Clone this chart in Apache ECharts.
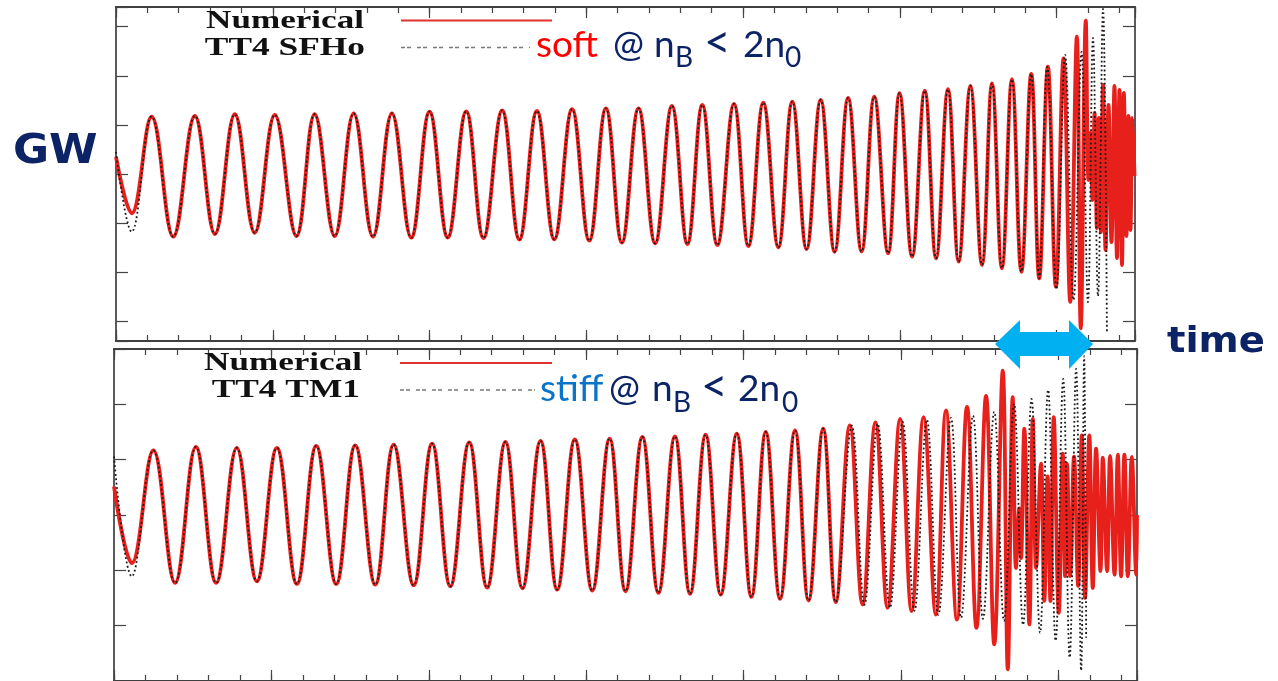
<!DOCTYPE html>
<html>
<head>
<meta charset="utf-8">
<title>GW waveforms: TT4 SFHo / TT4 TM1</title>
<script src="https://cdn.jsdelivr.net/npm/echarts@6/dist/echarts.min.js"></script>
<style>
  html, body { margin: 0; padding: 0; background: #fff; }
  #chart { width: 1278px; height: 681px; }
</style>
</head>
<body>
<div id="chart"></div>
<script>
(function () {
  "use strict";

  // time axis (arbitrary units, one major tick = 1), strain axis (one tick = 1)
  const X_MAX = 6.5;
  const SFHO_Y = [-3.4, 3.4];
  const TM1_Y = [-3, 3];

  // --- upper panel: soft EOS (SFHo) ---
  // extrema: [time, strain]
  const sfhoNumericalHead = [[0, 0.346], [0.100, -0.800]];
  const sfhoModelHead = [[0, 0.448], [0.100, -1.175]];
  // inspiral where both curves lie on top of each other
  const sfhoShared = [
    [0.227, 1.167], [0.365, -1.277], [0.503, 1.181], [0.631, -1.222], [0.758, 1.216],
    [0.885, -1.196], [1.013, 1.202], [1.151, -1.263], [1.267, 1.216], [1.395, -1.263],
    [1.516, 1.236], [1.639, -1.277], [1.760, 1.236], [1.883, -1.297], [2.000, 1.269],
    [2.116, -1.293], [2.234, 1.277], [2.344, -1.303], [2.463, 1.293], [2.573, -1.334],
    [2.685, 1.283], [2.796, -1.330], [2.909, 1.318], [3.019, -1.358], [3.125, 1.338],
    [3.227, -1.399], [3.333, 1.338], [3.439, -1.411], [3.546, 1.385], [3.645, -1.426],
    [3.740, 1.405], [3.836, -1.446], [3.942, 1.426], [4.034, -1.466], [4.129, 1.452],
    [4.225, -1.493], [4.314, 1.473], [4.405, -1.528], [4.495, 1.507], [4.584, -1.583],
    [4.670, 1.548], [4.756, -1.578], [4.837, 1.574], [4.925, -1.615], [4.998, 1.644],
    [5.078, -1.684], [5.159, 1.697], [5.231, -1.717], [5.307, 1.725], [5.375, -1.786],
    [5.450, 1.792], [5.524, -1.853], [5.588, 1.847], [5.651, -1.921], [5.715, 1.929],
    [5.775, -1.990], [5.838, 2.037], [5.889, -2.124]
  ];
  const sfhoNumericalTail = [
    [5.944, 2.185], [5.995, -2.295], [6.044, 2.356], [6.087, -2.601], [6.129, 2.796],
    [6.154, -3.143], [6.186, 3.122], [6.203, -0.122], [6.216, 0.835], [6.229, -0.530],
    [6.242, 1.242], [6.257, -1.100], [6.270, 1.141], [6.283, -1.181], [6.296, 1.813],
    [6.312, -1.548], [6.331, 1.405], [6.350, -1.385], [6.369, 1.792], [6.385, -1.711],
    [6.401, 1.711], [6.417, -1.853], [6.429, 1.650], [6.445, -1.263], [6.458, 1.181],
    [6.471, -1.141], [6.484, 1.141], [6.497, -0.040]
  ];
  const sfhoModelTail = [
    [5.940, 2.179], [5.999, -2.342], [6.054, 2.424], [6.108, -2.566], [6.159, 2.485],
    [6.200, -2.607], [6.232, 2.770], [6.264, -2.485], [6.296, 3.361], [6.321, -3.238]
  ];

  // --- lower panel: stiff EOS (TM1) ---
  const tm1NumericalHead = [[0, 0.516], [0.113, -0.869]];
  const tm1ModelHead = [[0, 1.056], [0.113, -1.108]];
  const tm1Shared = [
    [0.250, 1.169], [0.388, -1.228], [0.520, 1.230], [0.649, -1.228], [0.780, 1.212],
    [0.908, -1.198], [1.035, 1.212], [1.162, -1.246], [1.285, 1.248], [1.412, -1.246],
    [1.533, 1.259], [1.660, -1.259], [1.777, 1.272], [1.904, -1.270], [2.021, 1.290],
    [2.137, -1.288], [2.257, 1.311], [2.371, -1.313], [2.487, 1.320], [2.595, -1.324],
    [2.710, 1.340], [2.816, -1.349], [2.928, 1.367], [3.039, -1.367], [3.149, 1.380],
    [3.250, -1.378], [3.357, 1.410], [3.459, -1.408], [3.564, 1.421], [3.660, -1.426],
    [3.759, 1.451], [3.855, -1.439], [3.957, 1.469], [4.050, -1.480], [4.141, 1.500],
    [4.232, -1.516], [4.327, 1.529], [4.413, -1.547], [4.506, 1.559], [4.586, -1.576]
  ];
  const tm1NumericalTail = [
    [4.675, 1.619], [4.756, -1.619], [4.838, 1.673], [4.915, -1.678], [4.995, 1.739],
    [5.068, -1.737], [5.144, 1.770], [5.222, -1.799], [5.286, 1.889], [5.356, -1.889],
    [5.420, 1.955], [5.480, -2.038], [5.541, 2.153], [5.593, -2.338], [5.647, 2.608],
    [5.679, -2.788], [5.710, 2.130], [5.731, -0.959], [5.752, 0.121], [5.763, -0.779],
    [5.784, 1.559], [5.816, -1.978], [5.838, 1.739], [5.859, -0.959], [5.890, 0.930],
    [5.911, -1.552], [5.932, 0.696], [5.950, -1.558], [5.971, 1.770], [6.003, -1.768],
    [6.028, 1.110], [6.043, -1.103], [6.056, 0.930], [6.075, -1.103], [6.100, 1.056],
    [6.126, -1.282], [6.149, 1.439], [6.170, -1.498], [6.197, 1.439], [6.219, -1.318],
    [6.240, 1.200], [6.268, -1.013], [6.283, 1.038], [6.310, -1.018], [6.329, 1.068],
    [6.357, -1.079], [6.378, 1.092], [6.399, -1.108], [6.420, 1.092], [6.442, -1.108],
    [6.467, 1.050], [6.495, -1.079], [6.500, 0]
  ];
  const tm1ModelTail = [
    [4.688, 1.613], [4.768, -1.624], [4.852, 1.649], [4.930, -1.678], [5.011, 1.685],
    [5.086, -1.732], [5.165, 1.721], [5.238, -1.804], [5.318, 1.757], [5.382, -1.858],
    [5.458, 1.793], [5.521, -1.876], [5.593, 1.865], [5.655, -1.912], [5.719, 2.009],
    [5.776, -1.984], [5.830, 2.099], [5.884, -2.128], [5.935, 2.261], [5.983, -2.272],
    [6.031, 2.459], [6.072, -2.577], [6.113, 2.639], [6.145, -2.811], [6.164, 2.872],
    [6.177, -2.218]
  ];

  const RED = "#e8201c";
  const DOT = "#1a1a1a";
  const FRAME = "#333";
  const NAVY = "#0c2366";
  const SERIF = '"Liberation Serif", "Times New Roman", serif';
  const SANS = 'Lato, "Open Sans", sans-serif';
  const HEAVY = '"DejaVu Sans", Verdana, sans-serif';

  // one side of a panel frame, ticks pointing inward
  function xFrame(gridIndex, position, interval, tickLen) {
    return {
      type: "value", gridIndex, position, min: 0, max: X_MAX, interval,
      axisLine: { show: true, onZero: false, lineStyle: { color: FRAME, width: 1.6 } },
      axisTick: { show: true, inside: true, length: tickLen, lineStyle: { color: "#444", width: 1.2 } },
      axisLabel: { show: false },
      splitLine: { show: false },
    };
  }
  function yFrame(gridIndex, position, range) {
    return {
      type: "value", gridIndex, position, min: range[0], max: range[1],
      axisLine: { show: true, onZero: false, lineStyle: { color: FRAME, width: 1.6 } },
      axisTick: { show: true, inside: true, length: 12, lineStyle: { color: "#444", width: 1.2 } },
      axisLabel: { show: false },
      splitLine: { show: false },
    };
  }

  function wave(name, xi, yi, data, dotted) {
    return {
      type: "line", name, xAxisIndex: xi, yAxisIndex: yi, data,
      symbol: "none", smooth: 0.4, clip: true, z: dotted ? 4 : 2,
      lineStyle: dotted
        ? { color: DOT, width: 1.8, type: [1.8, 2.6] }
        : { color: RED, width: 3.8 },
      emphasis: { disabled: true },
    };
  }

  function txt(x, y, text, font, fill, align, scaleX) {
    return {
      type: "text", x, y, z: 50, scaleX: scaleX || 1,
      style: { text, font, fill, textAlign: align || "left", textVerticalAlign: "middle" },
    };
  }
  function seg(x1, y1, x2, y2, stroke, width, dash) {
    return {
      type: "line", z: 50,
      shape: { x1, y1, x2, y2 },
      style: { stroke, lineWidth: width, lineDash: dash || null },
    };
  }
  // "<label> @ nB < 2n0" with subscripts
  function densityNote(x0, base, label, labelColor, pos) {
    const main = "37px " + SANS, sub = "28px " + SANS, lt = "46px " + SANS;
    const cy = base - 12, sy = base + 1;
    return [
      txt(x0, cy, label, main, labelColor),
      txt(pos[0], cy, "@", main, NAVY),
      txt(pos[1], cy, "n", main, NAVY),
      txt(pos[2], sy, "B", sub, NAVY),
      txt(pos[3], cy - 2, "<", lt, NAVY),
      txt(pos[4], cy, "2n", main, NAVY),
      txt(pos[5], sy, "0", sub, NAVY),
    ];
  }
  const LEGEND_FONT = "bold 26px " + SERIF;

  const chart = echarts.init(document.getElementById("chart"), null, { renderer: "canvas" });
  chart.setOption({
    animation: false,
    backgroundColor: "#fff",
    grid: [
      { left: 116, top: 7, width: 1019, height: 334 },
      { left: 114, top: 349, width: 1023, height: 334 },
    ],
    xAxis: [
      xFrame(0, "bottom", 0.2, 6), xFrame(0, "bottom", 1, 11),
      xFrame(0, "top", 0.2, 6), xFrame(0, "top", 1, 11),
      xFrame(1, "bottom", 0.2, 6), xFrame(1, "bottom", 1, 11),
      xFrame(1, "top", 0.2, 6), xFrame(1, "top", 1, 11),
    ],
    yAxis: [
      yFrame(0, "left", SFHO_Y), yFrame(0, "right", SFHO_Y),
      yFrame(1, "left", TM1_Y), yFrame(1, "right", TM1_Y),
    ],
    series: [
      wave("Numerical", 0, 0, sfhoNumericalHead.concat(sfhoShared, sfhoNumericalTail), false),
      wave("TT4 SFHo", 0, 0, sfhoModelHead.concat(sfhoShared, sfhoModelTail), true),
      wave("Numerical", 4, 2, tm1NumericalHead.concat(tm1Shared, tm1NumericalTail), false),
      wave("TT4 TM1", 4, 2, tm1ModelHead.concat(tm1Shared, tm1ModelTail), true),
    ],
    graphic: [
      // in-panel legends
      txt(364, 21.5, "Numerical", LEGEND_FONT, "#111", "right", 1.35),
      txt(365, 48.5, "TT4 SFHo", LEGEND_FONT, "#111", "right", 1.36),
      seg(401, 20.5, 552, 20.5, "#e03030", 2),
      seg(401, 47.5, 530, 47.5, "#777", 1.3, [4, 2, 4, 6]),
      txt(362, 363, "Numerical", LEGEND_FONT, "#111", "right", 1.35),
      txt(360, 390, "TT4 TM1", LEGEND_FONT, "#111", "right", 1.36),
      seg(400, 363, 552, 363, "#e03030", 2),
      seg(400, 390, 535, 390, "#777", 1.3, [4, 2, 4, 6]),
      // annotations
      ...densityNote(536, 57, "soft", "#ff0000", [613, 654, 675, 704, 743, 785]),
      ...densityNote(540, 401.5, "stiff", "#0a74c8", [609, 652, 673, 701, 738, 782]),
      txt(13, 152.5, "GW", "bold 40px " + HEAVY, NAVY, "left", 1.1),
      txt(1167, 343, "time", "bold 36px " + HEAVY, NAVY, "left", 1.07),
      {
        type: "polygon", z: 60,
        shape: { points: [[995, 344], [1020, 320], [1020, 332], [1069, 332], [1069, 320],
                          [1093, 344], [1069, 369], [1069, 356], [1020, 356], [1020, 369]] },
        style: { fill: "#00b0f0" },
      },
    ],
  });
})();
</script>
</body>
</html>
